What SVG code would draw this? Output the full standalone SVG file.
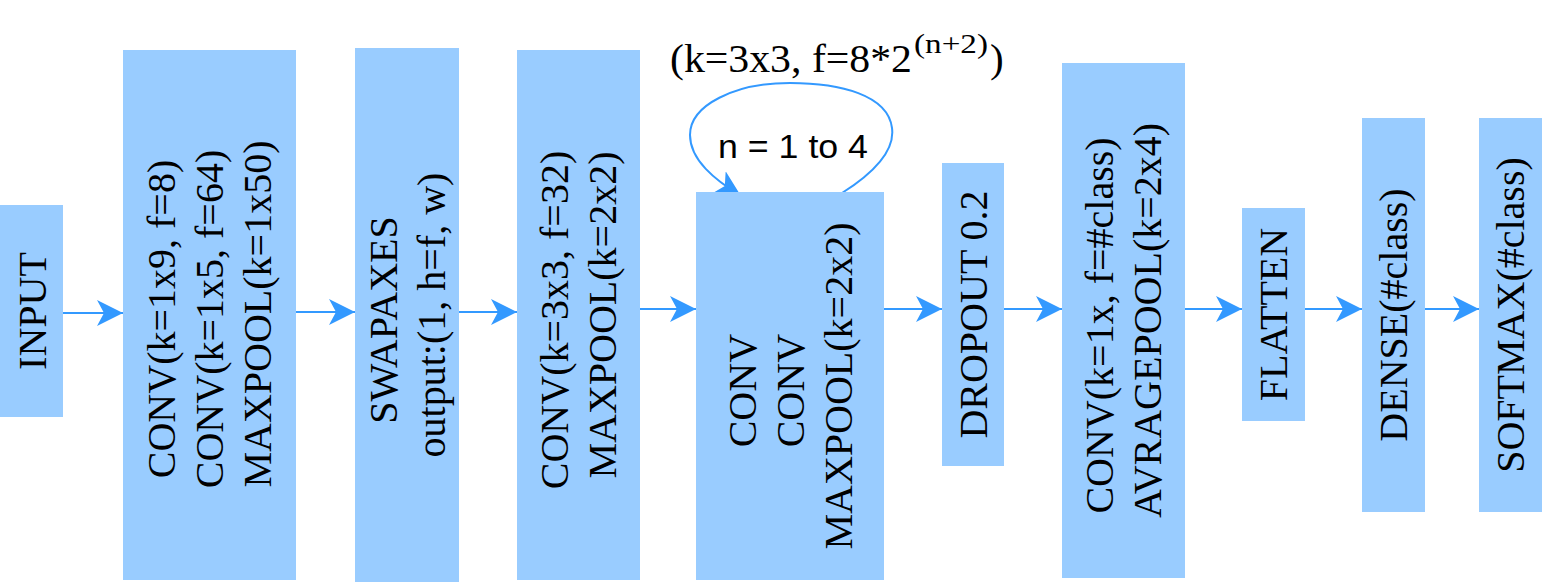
<svg xmlns="http://www.w3.org/2000/svg" width="1542" height="582" viewBox="0 0 1542 582">
  <defs>
    <marker id="arr" markerUnits="userSpaceOnUse" markerWidth="27" markerHeight="27" refX="26" refY="13" orient="auto" viewBox="0 0 27 26">
      <path d="M0,0 L26,13 L0,26 L7,13 Z" fill="#3399FF"/>
    </marker>
    <style>
      .box { fill: #99CCFF; }
      .lbl { font-family: "Liberation Serif", "Times New Roman", serif; font-size: 40px; fill: #000; text-anchor: middle; }
      .ser { font-family: "Liberation Serif", "Times New Roman", serif; fill: #000; }
      .edge { fill: none; stroke: #3399FF; stroke-width: 2; marker-end: url(#arr); }
      .loopTxt { font-family: "Liberation Sans", Arial, sans-serif; font-size: 33px; fill: #000; }
    </style>
  </defs>

  <g id="connectors">
    <path class="edge" d="M63,313 L123,313"/>
    <path class="edge" d="M296,312 L355,312"/>
    <path class="edge" d="M459,312 L517,312"/>
    <path class="edge" d="M640,309 L696,309"/>
    <path class="edge" d="M884,309 L942,309"/>
    <path class="edge" d="M1004,309 L1062,309"/>
    <path class="edge" d="M1185,309 L1242,309"/>
    <path class="edge" d="M1305,309 L1362,309"/>
    <path class="edge" d="M1425,309 L1479,309"/>
    <path id="loop" class="edge" d="M842,193 C875,172 895,150 892,128 C888,95 840,83 790,83 C735,83 690,105 690,135 C690,160 715,180 741,196"/>
  </g>

  <g id="loop-labels">
    <text class="ser" x="670" y="72" font-size="41" textLength="242" lengthAdjust="spacingAndGlyphs">(k=3x3, f=8*2</text>
    <text class="ser" x="914" y="53" font-size="28" textLength="74" lengthAdjust="spacingAndGlyphs">(n+2)</text>
    <text class="ser" x="990" y="72" font-size="41">)</text>
    <text class="loopTxt" x="718" y="158" textLength="150" lengthAdjust="spacingAndGlyphs">n = 1 to 4</text>
  </g>

  <g id="input">
    <rect class="box" x="0" y="205" width="63" height="212"/>
    <text class="lbl" transform="translate(31.5,311) rotate(-90)" y="14">INPUT</text>
  </g>

  <g id="conv1">
    <rect class="box" x="123" y="50" width="173" height="530"/>
    <text class="lbl" transform="translate(209.5,314) rotate(-90)">
      <tspan x="0" y="-34.5">CONV(k=1x9, f=8)</tspan>
      <tspan x="0" y="13.5">CONV(k=1x5, f=64)</tspan>
      <tspan x="0" y="61.5">MAXPOOL(k=1x50)</tspan>
    </text>
  </g>

  <g id="swapaxes">
    <rect class="box" x="355" y="48" width="104" height="534"/>
    <text class="lbl" transform="translate(407,315) rotate(-90)">
      <tspan x="0" y="-10.5">SWAPAXES</tspan>
      <tspan x="0" y="37.5">output:(1, h=f, w)</tspan>
    </text>
  </g>

  <g id="conv2">
    <rect class="box" x="517" y="50" width="123" height="530"/>
    <text class="lbl" transform="translate(578.5,315) rotate(-90)">
      <tspan x="0" y="-10.5">CONV(k=3x3, f=32)</tspan>
      <tspan x="0" y="37.5">MAXPOOL(k=2x2)</tspan>
    </text>
  </g>

  <g id="conv-block">
    <rect class="box" x="696" y="192" width="188" height="388"/>
    <text class="lbl" transform="translate(790,386) rotate(-90)">
      <tspan x="0" y="-34.5">CONV</tspan>
      <tspan x="0" y="13.5">CONV</tspan>
      <tspan x="0" y="61.5">MAXPOOL(k=2x2)</tspan>
    </text>
  </g>

  <g id="dropout">
    <rect class="box" x="942" y="163" width="62" height="303"/>
    <text class="lbl" transform="translate(973,314.5) rotate(-90)" y="13.5">DROPOUT 0.2</text>
  </g>

  <g id="conv3">
    <rect class="box" x="1062" y="63" width="123" height="515"/>
    <text class="lbl" transform="translate(1123.5,320.5) rotate(-90)">
      <tspan x="0" y="-10.5">CONV(k=1x, f=#class)</tspan>
      <tspan x="0" y="37.5">AVRAGEPOOL(k=2x4)</tspan>
    </text>
  </g>

  <g id="flatten">
    <rect class="box" x="1242" y="208" width="63" height="213"/>
    <text class="lbl" transform="translate(1273.5,314.5) rotate(-90)" y="13.5">FLATTEN</text>
  </g>

  <g id="dense">
    <rect class="box" x="1362" y="118" width="63" height="394"/>
    <text class="lbl" transform="translate(1393.5,315) rotate(-90)" y="13.5">DENSE(#class)</text>
  </g>

  <g id="softmax">
    <rect class="box" x="1479" y="118" width="63" height="394"/>
    <text class="lbl" transform="translate(1510.5,315) rotate(-90)" y="13.5">SOFTMAX(#class)</text>
  </g>
</svg>
